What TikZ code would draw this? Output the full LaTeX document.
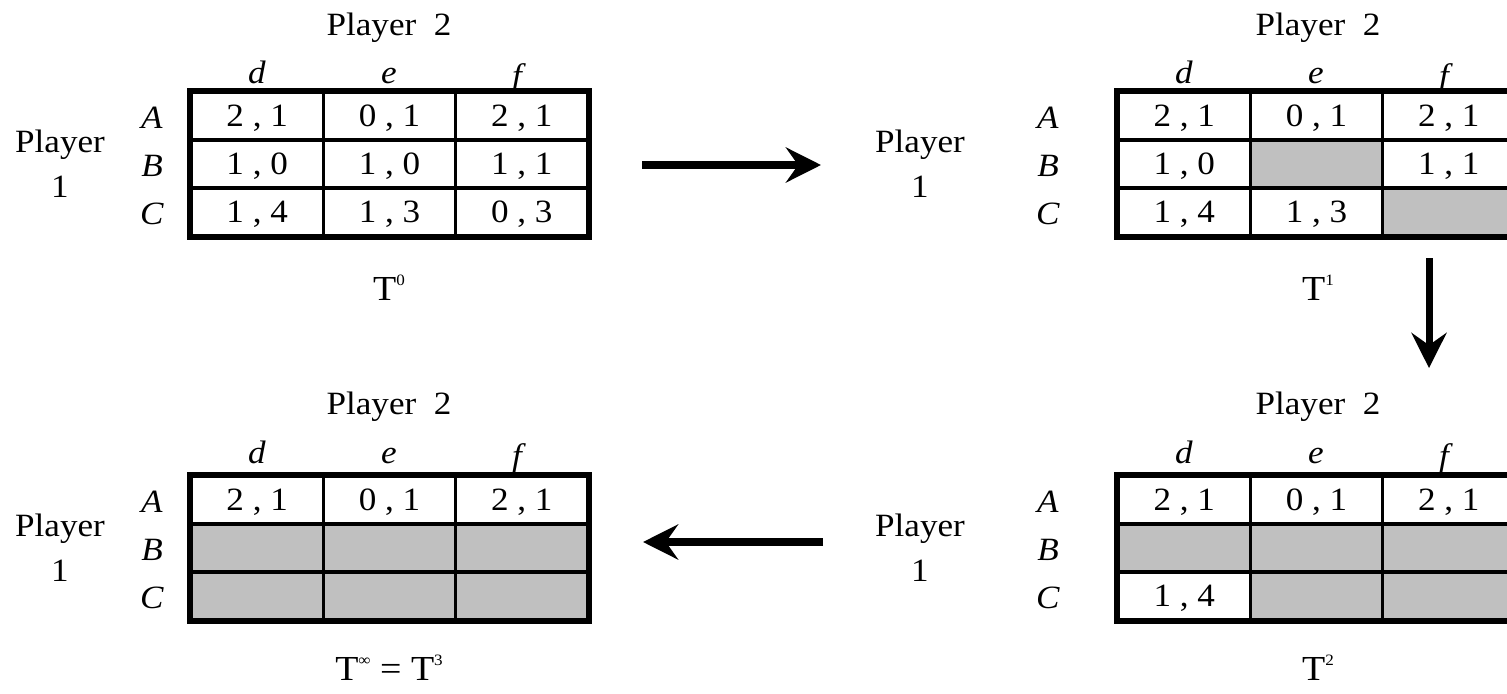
\documentclass[tikz,border=0pt]{standalone}
\usepackage{fontspec}
\setmainfont{Liberation Serif}[FakeStretch=1.08]
\usetikzlibrary{arrows.meta}
\definecolor{cellgrey}{RGB}{192,192,192}
\newcommand\tsup[1]{\raisebox{8.3pt}{\fontsize{9}{9}\selectfont #1}}
\tikzset{
  txt/.style={font=\fontsize{18.5}{22}\selectfont, inner sep=0pt, anchor=base},
  step name/.style={txt, font=\fontsize{20}{22}\selectfont},
  pay/.style={draw, line width=2pt, minimum width=2.647cm, minimum height=0.96cm,
    inner sep=0pt, text height=12.4pt, text depth=0pt, font=\fontsize{18.5}{22}\selectfont},
  gone/.style={pay, fill=cellgrey},
  outer/.style={line width=2.9pt},
  move/.style={line width=4pt, -{Stealth[length=20pt,width=20pt,inset=7pt]}}
}

\begin{document}
\begin{tikzpicture}[x=0.02cm, y=-0.02cm]
\useasboundingbox (0,0) rectangle (1507,693);
\clip (0,0) rectangle (1507,693);

% T^0 (top left)
\node[txt] (t0p2) at (389,35) {Player~~2};
\node[txt] (t0pl) at (60,152) {Player};
\node[txt] (t0p1) at (60,197) {1};
\node[txt] (t0d) at (257,83) {\textit{d}};
\node[txt] (t0e) at (389,83) {\textit{e}};
\node[txt] (t0f) at (519,86) {\textit{f}};
\node[txt] (t0A) at (152,128) {\textit{A}};
\node[txt] (t0B) at (152,176) {\textit{B}};
\node[txt] (t0C) at (152,224) {\textit{C}};
\node[pay] (t0Ad) at (257.2,116) {2 , 1};
\node[pay] (t0Ae) at (389.5,116) {0 , 1};
\node[pay] (t0Af) at (521.8,116) {2 , 1};
\node[pay] (t0Bd) at (257.2,164) {1 , 0};
\node[pay] (t0Be) at (389.5,164) {1 , 0};
\node[pay] (t0Bf) at (521.8,164) {1 , 1};
\node[pay] (t0Cd) at (257.2,212) {1 , 4};
\node[pay] (t0Ce) at (389.5,212) {1 , 3};
\node[pay] (t0Cf) at (521.8,212) {0 , 3};
\draw[outer] (t0Ad.north west) rectangle (t0Cf.south east);
\node[step name] (t0T) at (389,300) {T\tsup{0}};

% T^1 (top right)
\node[txt] (t1p2) at (1318,35) {Player~~2};
\node[txt] (t1pl) at (920,152) {Player};
\node[txt] (t1p1) at (920,197) {1};
\node[txt] (t1d) at (1184,83) {\textit{d}};
\node[txt] (t1e) at (1316,83) {\textit{e}};
\node[txt] (t1f) at (1446,86) {\textit{f}};
\node[txt] (t1A) at (1048,128) {\textit{A}};
\node[txt] (t1B) at (1048,176) {\textit{B}};
\node[txt] (t1C) at (1048,224) {\textit{C}};
\node[pay] (t1Ad) at (1184.2,116) {2 , 1};
\node[pay] (t1Ae) at (1316.5,116) {0 , 1};
\node[pay] (t1Af) at (1448.8,116) {2 , 1};
\node[pay] (t1Bd) at (1184.2,164) {1 , 0};
\node[gone] (t1Be) at (1316.5,164) {};
\node[pay] (t1Bf) at (1448.8,164) {1 , 1};
\node[pay] (t1Cd) at (1184.2,212) {1 , 4};
\node[pay] (t1Ce) at (1316.5,212) {1 , 3};
\node[gone] (t1Cf) at (1448.8,212) {};
\draw[outer] (t1Ad.north west) rectangle (t1Cf.south east);
\node[step name] (t1T) at (1318,300) {T\tsup{1}};

% T^2 (bottom right)
\node[txt] (t2p2) at (1318,414) {Player~~2};
\node[txt] (t2pl) at (920,536) {Player};
\node[txt] (t2p1) at (920,581) {1};
\node[txt] (t2d) at (1184,463) {\textit{d}};
\node[txt] (t2e) at (1316,463) {\textit{e}};
\node[txt] (t2f) at (1446,466) {\textit{f}};
\node[txt] (t2A) at (1048,512) {\textit{A}};
\node[txt] (t2B) at (1048,560) {\textit{B}};
\node[txt] (t2C) at (1048,608) {\textit{C}};
\node[pay] (t2Ad) at (1184.2,500) {2 , 1};
\node[pay] (t2Ae) at (1316.5,500) {0 , 1};
\node[pay] (t2Af) at (1448.8,500) {2 , 1};
\node[gone] (t2Bd) at (1184.2,548) {};
\node[gone] (t2Be) at (1316.5,548) {};
\node[gone] (t2Bf) at (1448.8,548) {};
\node[pay] (t2Cd) at (1184.2,596) {1 , 4};
\node[gone] (t2Ce) at (1316.5,596) {};
\node[gone] (t2Cf) at (1448.8,596) {};
\draw[outer] (t2Ad.north west) rectangle (t2Cf.south east);
\node[step name] (t2T) at (1318,680) {T\tsup{2}};

% T^3 (bottom left)
\node[txt] (t3p2) at (389,414) {Player~~2};
\node[txt] (t3pl) at (60,536) {Player};
\node[txt] (t3p1) at (60,581) {1};
\node[txt] (t3d) at (257,463) {\textit{d}};
\node[txt] (t3e) at (389,463) {\textit{e}};
\node[txt] (t3f) at (519,466) {\textit{f}};
\node[txt] (t3A) at (152,512) {\textit{A}};
\node[txt] (t3B) at (152,560) {\textit{B}};
\node[txt] (t3C) at (152,608) {\textit{C}};
\node[pay] (t3Ad) at (257.2,500) {2 , 1};
\node[pay] (t3Ae) at (389.5,500) {0 , 1};
\node[pay] (t3Af) at (521.8,500) {2 , 1};
\node[gone] (t3Bd) at (257.2,548) {};
\node[gone] (t3Be) at (389.5,548) {};
\node[gone] (t3Bf) at (521.8,548) {};
\node[gone] (t3Cd) at (257.2,596) {};
\node[gone] (t3Ce) at (389.5,596) {};
\node[gone] (t3Cf) at (521.8,596) {};
\draw[outer] (t3Ad.north west) rectangle (t3Cf.south east);
\node[step name] (t3T) at (389,680) {T\tsup{∞} = T\tsup{3}};

% arrows between the steps
\coordinate (m1a) at (642,165);
\coordinate (m1b) at (821,165);
\coordinate (m2a) at (1429,258);
\coordinate (m2b) at (1429,368);
\coordinate (m3a) at (823,542);
\coordinate (m3b) at (643,542);
\draw[move] (m1a) -- (m1b);
\draw[move] (m2a) -- (m2b);
\draw[move] (m3a) -- (m3b);
\end{tikzpicture}
\end{document}
